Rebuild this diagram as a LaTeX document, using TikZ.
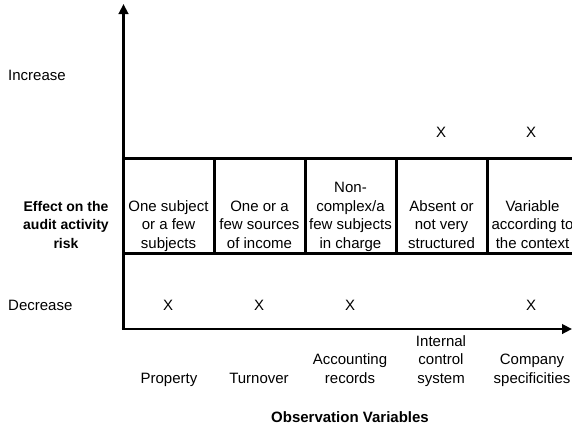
\documentclass[tikz,border=0pt]{standalone}
\usepackage{fontspec}
\setmainfont{Liberation Sans}
\usetikzlibrary{arrows.meta}
\begin{document}
\begin{tikzpicture}[x=1bp,y=-1bp,
  txt/.style={font=\fontsize{15bp}{18.8bp}\selectfont, inner sep=0pt, align=center},
  boldtxt/.style={font=\fontsize{14bp}{18.8bp}\selectfont\bfseries, inner sep=0pt, align=center},
  cell/.style={draw, line width=3bp, minimum width=91bp, minimum height=95bp, inner sep=0pt, outer sep=0pt},
  axis/.style={line width=2.6bp, -{Triangle[length=10bp,width=9.5bp]}},
  xmark/.style={txt, anchor=base}
]
\useasboundingbox (0,0) rectangle (572,427);
% cells
\node[cell] (c1) at (168.5,205.5) {};
\node[cell] (c2) at (259.5,205.5) {};
\node[cell] (c3) at (350.5,205.5) {};
\node[cell] (c4) at (441.5,205.5) {};
\node[cell] (c5) at (532.5,205.5) {};
\node[txt, anchor=south] (t1) at ([yshift=-1.6bp]c1.south) {One subject\\or a few\\subjects\strut};
\node[txt, anchor=south] (t2) at ([yshift=-1.6bp]c2.south) {One or a\\few sources\\of income\strut};
\node[txt, anchor=south] (t3) at ([yshift=-1.6bp]c3.south) {Non-\\complex/a\\few subjects\\in charge\strut};
\node[txt, anchor=south] (t4) at ([yshift=-1.6bp]c4.south) {Absent or\\not very\\structured\strut};
\node[txt, anchor=south] (t5) at ([yshift=-1.6bp]c5.south) {Variable\\according to\\the context\strut};
% axes
\coordinate (O) at (123.5,329);
\coordinate (Ytip) at (123.5,4);
\coordinate (Xstart) at (121.5,329);
\coordinate (Xtip) at (572,329);
\draw[axis] (O) -- (Ytip);
\draw[axis] (Xstart) -- (Xtip);
% side labels
\node[txt, anchor=base west] (inc) at (8,80) {Increase};
\node[txt, anchor=base west] (dec) at (8,310) {Decrease};
\node[boldtxt, anchor=south] (eff) at (66,254.6) {Effect on the\\audit activity\\risk\strut};
% marks
\node[xmark] (u4) at (441,137) {X};
\node[xmark] (u5) at (531,137) {X};
\node[xmark] (d1) at (168,310) {X};
\node[xmark] (d2) at (259,310) {X};
\node[xmark] (d3) at (350,310) {X};
\node[xmark] (d5) at (531,310) {X};
% variable labels
\node[txt, anchor=south] (v1) at (169,389.6) {Property\strut};
\node[txt, anchor=south] (v2) at (259,389.6) {Turnover\strut};
\node[txt, anchor=south] (v3) at (350,389.6) {Accounting\\records\strut};
\node[txt, anchor=south] (v4) at (441,389.6) {Internal\\control\\system\strut};
\node[txt, anchor=south] (v5) at (532,389.6) {Company\\specificities\strut};
\node[boldtxt, font=\fontsize{15bp}{18.8bp}\selectfont\bfseries, anchor=base] (ov) at (350,422) {Observation Variables};
\end{tikzpicture}
\end{document}
